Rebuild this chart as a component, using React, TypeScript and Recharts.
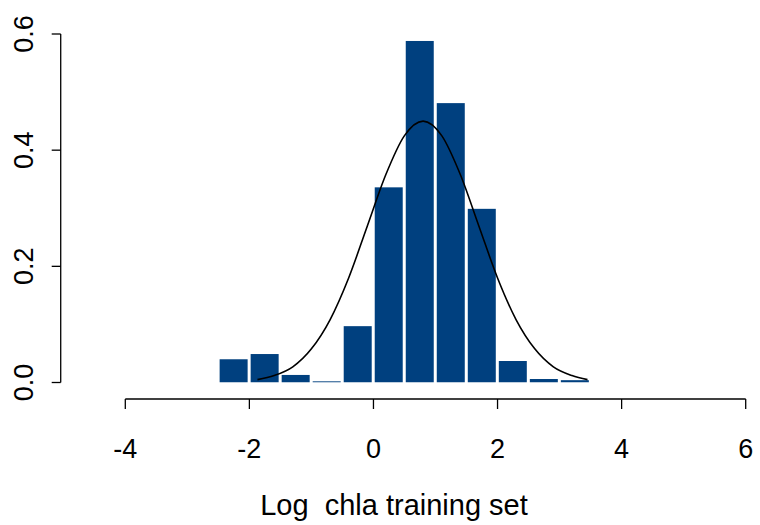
import { Bar, ComposedChart, Label, Line, ReferenceLine, XAxis, YAxis } from "recharts"

// histogram bins (width 0.5) and their densities
const binCenters = [-2.25, -1.75, -1.25, -0.75, -0.25, 0.25, 0.75, 1.25, 1.75, 2.25, 2.75, 3.25]
const binDensity = [0.04, 0.049, 0.013, 0.002, 0.097, 0.336, 0.588, 0.481, 0.299, 0.037, 0.006, 0.004]

// fitted normal curve
const curveX = [-1.87, -1.6, -1.3, -1.0, -0.7, -0.4, -0.1, 0.2, 0.5, 0.8, 1.1, 1.4, 1.7, 2.0, 2.3, 2.6, 2.9, 3.2, 3.45]
const curveY = [0.005, 0.012, 0.027, 0.058, 0.108, 0.18, 0.269, 0.358, 0.425, 0.45, 0.425, 0.358, 0.269, 0.18, 0.108, 0.058, 0.027, 0.012, 0.005]

const xTicks = [-4, -2, 0, 2, 4, 6]
const yTicks = [0, 0.2, 0.4, 0.6]
const xTitle = "Log  chla training set"

const bins = binCenters.map((x, i) => ({ x, density: binDensity[i] }))
const curve = curveX.map((x, i) => ({ x, y: curveY[i] }))

const font = '"Liberation Sans", Arial, Helvetica, sans-serif'
const barColor = "#00407f"

function XTick(props: any) {
  const { x, y, payload } = props
  return (
    <g>
      <line x1={x} x2={x} y1={y + 16.5} y2={y + 26.5} stroke="#000" strokeWidth={1.3} />
      <text x={x} y={y + 75.5} textAnchor="middle" fontSize={27} fontFamily={font} fill="#000">
        {String(payload.value)}
      </text>
    </g>
  )
}

function YTick(props: any) {
  const { x, y, payload } = props
  const tx = x - 92.3
  return (
    <g>
      <line x1={x - 73.6} x2={x - 64.6} y1={y} y2={y} stroke="#000" strokeWidth={1.3} />
      <text
        x={tx}
        y={y}
        transform={`rotate(-90, ${tx}, ${y})`}
        textAnchor="middle"
        fontSize={27}
        fontFamily={font}
        fill="#000"
      >
        {Number(payload.value).toFixed(1)}
      </text>
    </g>
  )
}

function Title(props: any) {
  const vb = props.viewBox
  return (
    <text
      x={vb.x + 268.7}
      y={vb.y + 132.5}
      textAnchor="middle"
      fontSize={29}
      fontFamily={font}
      fill="#000"
      style={{ whiteSpace: "pre" }}
    >
      {xTitle}
    </text>
  )
}

// bar drawn 28px wide around the centre recharts gives it
function BinBar(props: any) {
  const { x, y, width, height } = props
  if (!height || height <= 0) return null
  const cx = x + width / 2
  return <rect x={cx - 14} y={y} width={28} height={height} fill={barColor} />
}

export default function App() {
  return (
    <div style={{ position: "fixed", left: 0, top: 0, width: 760, height: 525, background: "#fff" }}>
      <ComposedChart width={760} height={525} data={bins} margin={{ top: 34, right: 14.3, left: 0, bottom: 0 }}>
        <XAxis
          type="number"
          dataKey="x"
          domain={[-4, 6]}
          ticks={xTicks}
          interval={0}
          allowDataOverflow
          axisLine={false}
          tickLine={false}
          tickSize={0}
          tickMargin={0}
          height={142.5}
          tick={<XTick />}
          label={<Label content={<Title />} />}
        />
        <YAxis
          type="number"
          domain={[0, 0.6]}
          ticks={yTicks}
          interval={0}
          allowDataOverflow
          axisLine={false}
          tickLine={false}
          tickSize={0}
          tickMargin={0}
          width={125.3}
          tick={<YTick />}
        />
        <ReferenceLine
          segment={[{ x: -4, y: -0.0284 }, { x: 6, y: -0.0284 }]}
          stroke="#000"
          strokeWidth={1.3}
          ifOverflow="visible"
        />
        <ReferenceLine
          segment={[{ x: -5.041, y: 0 }, { x: -5.041, y: 0.6 }]}
          stroke="#000"
          strokeWidth={1.3}
          ifOverflow="visible"
        />
        <Bar dataKey="density" fill={barColor} shape={<BinBar />} isAnimationActive={false} />
        <Line
          data={curve}
          dataKey="y"
          type="monotone"
          stroke="#000"
          strokeWidth={1.6}
          dot={false}
          isAnimationActive={false}
        />
      </ComposedChart>
    </div>
  )
}
